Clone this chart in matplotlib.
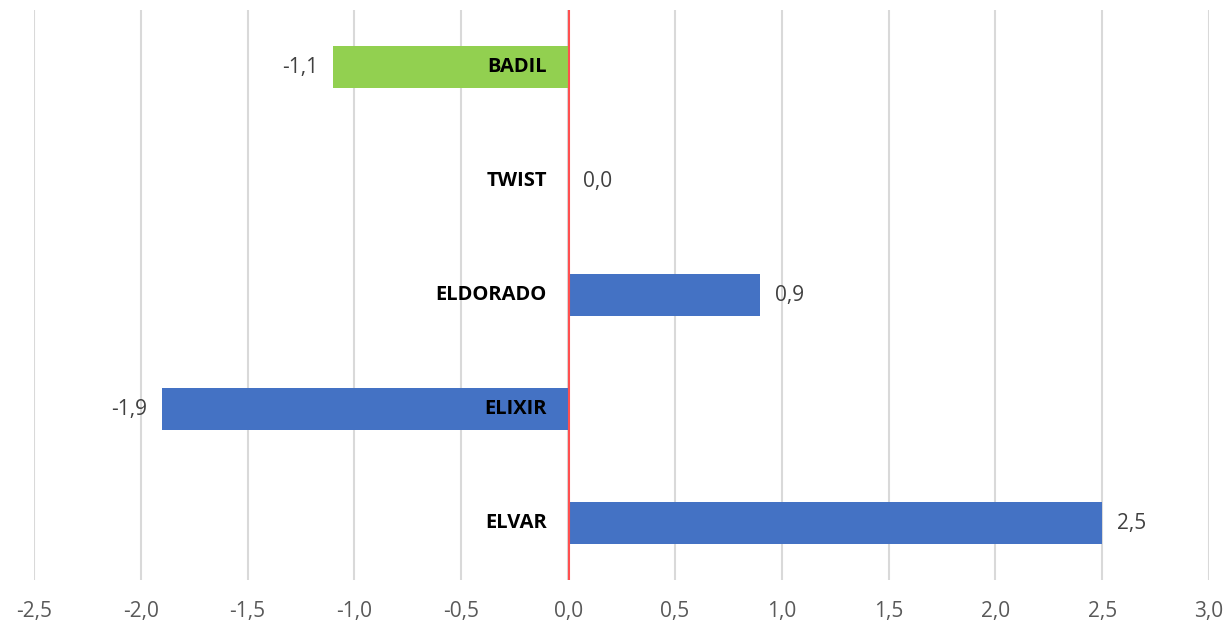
import matplotlib.pyplot as plt

categories = ["ELVAR", "ELIXIR", "ELDORADO", "TWIST", "BADIL"]
values = [2.5, -1.9, 0.9, 0.0, -1.1]
colors = ["#4472C4", "#4472C4", "#4472C4", "#4472C4", "#92D050"]
ticks = [-2.5, -2.0, -1.5, -1.0, -0.5, 0.0, 0.5, 1.0, 1.5, 2.0, 2.5, 3.0]

plt.rcParams['font.family'] = ['Open Sans', 'DejaVu Sans']

fig = plt.figure(figsize=(12.27, 6.24), dpi=100)
ax = fig.add_axes([34 / 1227, 1 - 580 / 624, (1209 - 34) / 1227, 570 / 624])

pos = range(len(categories))
ax.barh(pos, values, height=0.36, color=colors, zorder=2)

# red zero line
ax.axvline(0.005, color="#FF5050", linewidth=1.5, zorder=3)

for i, (name, v) in enumerate(zip(categories, values)):
    ax.text(-0.1, i, name, ha="right", va="center", fontsize=14.5,
            fontweight="bold", color="black", zorder=4)
    if v < 0:
        ax.text(v - 0.07, i, f"{v:.1f}".replace(".", ","), ha="right",
                va="center", fontsize=15, color="#404040")
    else:
        ax.text(v + 0.07, i, f"{v:.1f}".replace(".", ","), ha="left",
                va="center", fontsize=15, color="#404040")

ax.set_xlim(-2.5, 3.0)
ax.set_ylim(-0.5, 4.5)
ax.set_xticks(ticks)
ax.set_xticklabels([f"{t:.1f}".replace(".", ",") for t in ticks],
                   fontsize=15, color="#595959")
ax.set_yticks([])
ax.tick_params(axis="x", length=0, pad=15)
ax.grid(axis="x", color="#D9D9D9", linewidth=1.5, zorder=0)
for s in ax.spines.values():
    s.set_visible(False)

fig.savefig("out.png", dpi=100)
